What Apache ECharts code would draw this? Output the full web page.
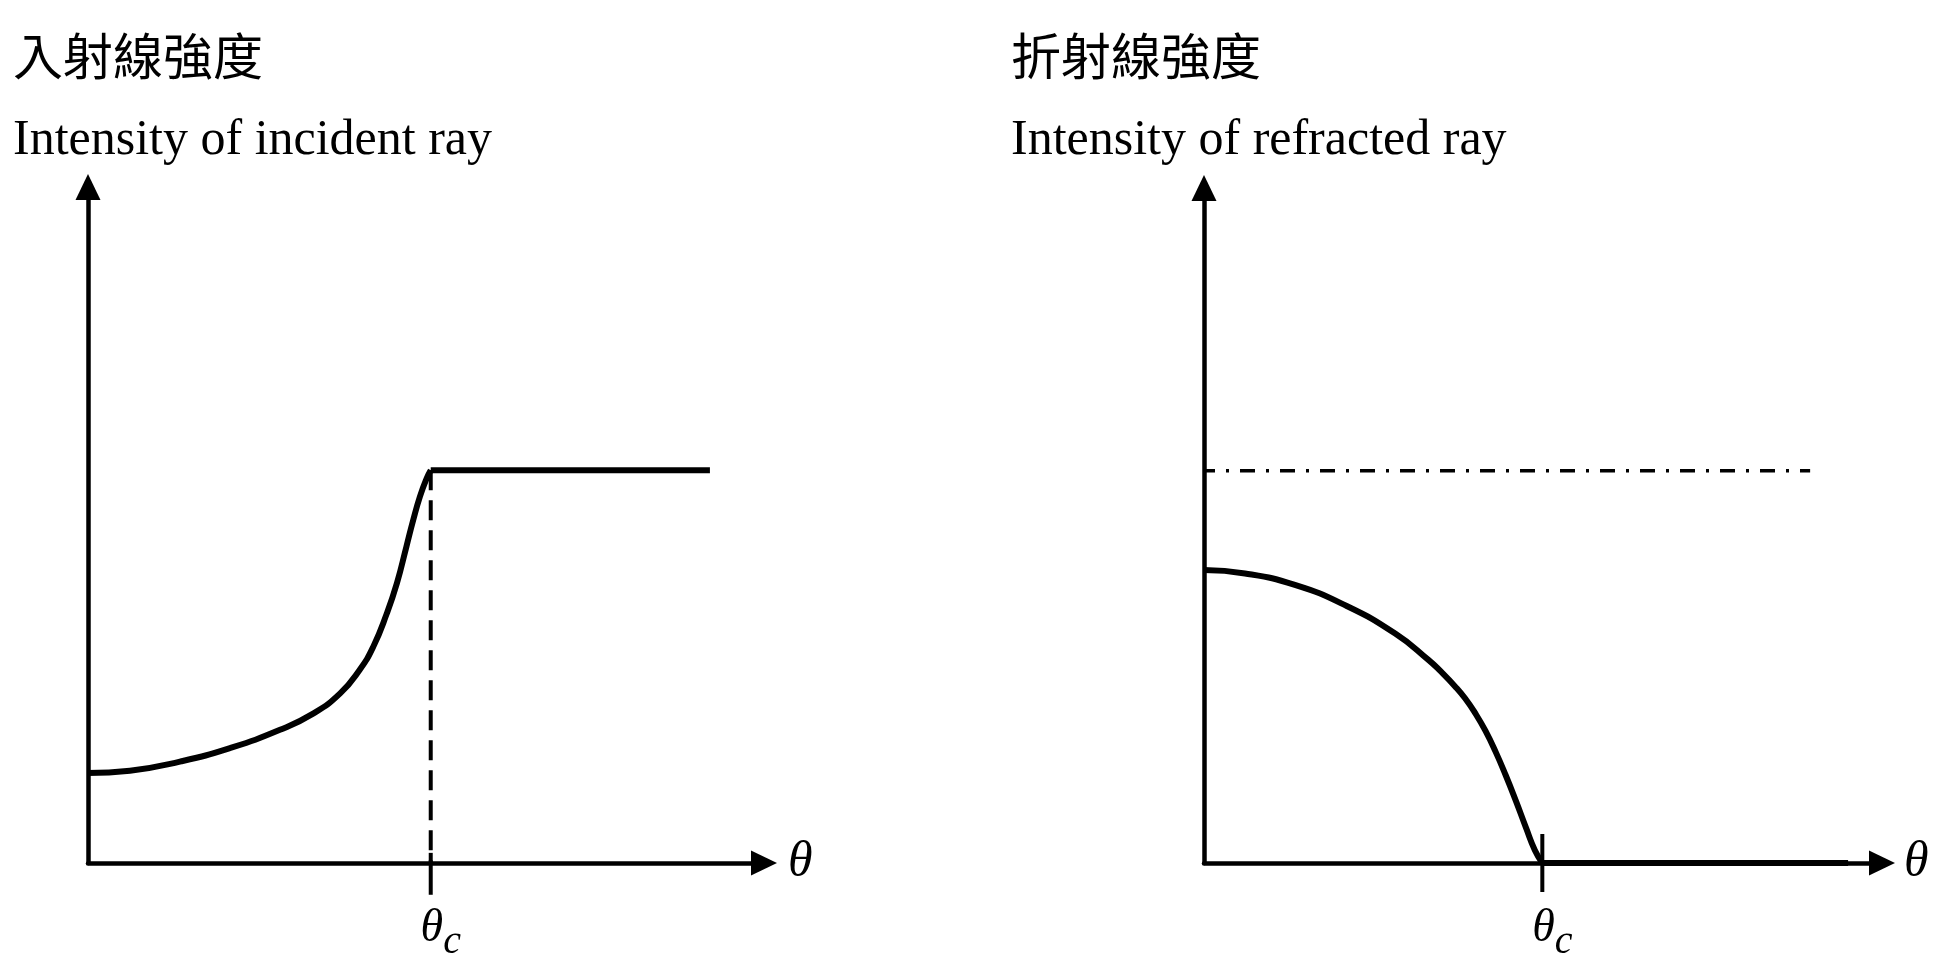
<!DOCTYPE html>
<html><head><meta charset="utf-8">
<script src="https://cdn.jsdelivr.net/npm/echarts@6/dist/echarts.min.js"></script>
<style>html,body{margin:0;padding:0;background:#fff}#c{width:1944px;height:972px}</style>
</head><body><div id="c"></div>
<script>
// ---- text ----
const titlesZh = ['入射線強度', '折射線強度'];
const titlesEn = ['Intensity of incident ray', 'Intensity of refracted ray'];
const axisName = 'θ';
const criticalLabel = ['θ', 'c'];

// ---- left panel: incident ray ----
const incidentX = [0, 6.2, 13.6, 21.0, 28.4, 33.3, 37.3, 40.2, 42.2, 44.2, 45.7, 47.1, 48.1, 49.1, 50.1, 50.7];
const incidentY = [13.3, 13.65, 15.0, 17.0, 19.7, 22.1, 25.1, 28.6, 32.0, 36.9, 41.4, 46.8, 50.7, 54.2, 56.9, 58.1];
const incidentCritical = 50.7;
const incidentTop = 58.1;
const incidentFlatEnd = 92.0;

// ---- right panel: refracted ray ----
const refractedX = [0, 6.05, 13.4, 20.8, 28.2, 33.1, 35.0, 37.0, 38.5, 40.0, 41.5, 43.0, 44.5, 46.0, 47.5, 48.8, 49.9];
const refractedY = [43.4, 42.9, 41.2, 38.2, 34.0, 30.1, 28.3, 26.2, 24.4, 22.2, 19.6, 16.5, 13.0, 9.2, 5.2, 1.9, 0];
const refractedCritical = 49.9;
const refractedFlatEnd = 95.0;
const referenceLevel = 58.1;
const referenceEnd = 89.4;

const zip = (xs, ys) => xs.map((x, i) => [x, ys[i]]);
const black = '#000';
const serif = 'Liberation Serif';

function xAxisFor(gi, crit, gap) {
  return {
    gridIndex: gi, type: 'value', min: 0, max: 100,
    axisLine: { show: true, onZero: false, symbol: ['none', 'triangle'], symbolSize: [25, 26],
      lineStyle: { color: black, width: 4.5 } },
    axisTick: { show: false }, splitLine: { show: false },
    axisLabel: {
      show: true, customValues: [crit], margin: 43, color: black,
      formatter: () => '{sp| }{t|' + criticalLabel[0] + '}{s|' + criticalLabel[1] + '}',
      rich: {
        sp: { width: 20, fontSize: 10 },
        t: { fontFamily: serif, fontStyle: 'italic', fontSize: 46, lineHeight: 44, verticalAlign: 'top', color: black },
        s: { fontFamily: serif, fontStyle: 'italic', fontSize: 40, lineHeight: 38, padding: [16, 0, 0, 0], verticalAlign: 'top', color: black }
      }
    },
    name: axisName, nameLocation: 'end', nameGap: gap,
    nameTextStyle: { fontFamily: serif, fontStyle: 'italic', fontSize: 50, color: black, verticalAlign: 'middle', padding: [26, 0, 0, 0] }
  };
}
function yAxisFor(gi) {
  return {
    gridIndex: gi, type: 'value', min: 0, max: 100,
    axisLine: { show: true, onZero: false, symbol: ['none', 'triangle'], symbolSize: [25, 26],
      lineStyle: { color: black, width: 4.5 } },
    axisTick: { show: false }, splitLine: { show: false }, axisLabel: { show: false }
  };
}
function line(gi, data, width, type, extra) {
  return Object.assign({
    type: 'line', xAxisIndex: gi, yAxisIndex: gi, data: data, symbol: 'none', silent: true,
    clip: false, animation: false,
    lineStyle: { color: black, width: width, type: type || 'solid' }
  }, extra || {});
}
function titleFor(i, left) {
  return {
    left: left, top: 31, padding: 0, itemGap: 35,
    text: titlesZh[i], subtext: titlesEn[i],
    textStyle: { fontFamily: 'Noto Sans CJK TC', fontSize: 50, fontWeight: 'normal', color: black },
    subtextStyle: { fontFamily: serif, fontSize: 50, color: black }
  };
}

const chart = echarts.init(document.getElementById('c'));
chart.setOption({
  backgroundColor: '#fff',
  animation: false,
  title: [titleFor(0, 13), titleFor(1, 1011)],
  grid: [
    { left: 88, top: 187, width: 676, height: 676, containLabel: false, outerBoundsMode: 'none' },
    { left: 1204, top: 188, width: 678, height: 675, containLabel: false, outerBoundsMode: 'none' }
  ],
  xAxis: [xAxisFor(0, incidentCritical, 24), xAxisFor(1, refractedCritical, 22)],
  yAxis: [yAxisFor(0), yAxisFor(1)],
  series: [
    line(0, zip(incidentX, incidentY), 6, 'solid', { smooth: 0.5 }),
    line(0, [[incidentCritical, incidentTop], [incidentFlatEnd, incidentTop]], 6),
    line(0, [[incidentCritical, incidentTop], [incidentCritical, 0]], 4, [20, 10]),
    line(0, [[incidentCritical, 1.5], [incidentCritical, -4.7]], 4),
    line(1, zip(refractedX, refractedY), 6, 'solid', { smooth: 0.5 }),
    line(1, [[refractedCritical, 0], [refractedFlatEnd, 0]], 6),
    line(1, [[refractedCritical, 4.3], [refractedCritical, -4.3]], 4),
    line(1, [[0, referenceLevel], [referenceEnd, referenceLevel]], 3.5, [15, 11, 3, 11], { lineStyle: { color: black, width: 3.5, type: [15, 11, 3, 11], dashOffset: 4 } })
  ]
});
</script></body></html>
